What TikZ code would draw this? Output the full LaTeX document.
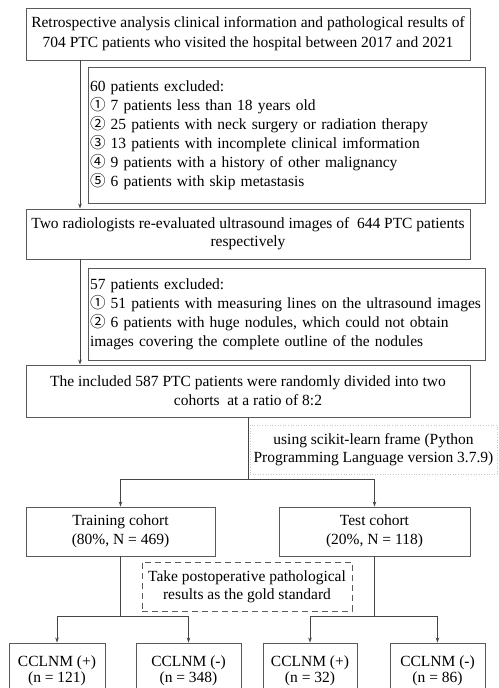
\documentclass[tikz,border=0pt]{standalone}
\usepackage{fontspec}
\setmainfont{Liberation Serif}
\newfontfamily\circfont{Noto Sans CJK SC}
\newcommand{\circd}[1]{{\circfont #1}}
\usetikzlibrary{arrows.meta}
\definecolor{boxgray}{HTML}{5A5A5A}
\definecolor{linegray}{HTML}{454545}
\definecolor{dotgray}{HTML}{C8C8C8}
\begin{document}
\begin{tikzpicture}[x=1pt,y=-1pt,
  font=\fontsize{15.5}{19}\selectfont,
  box/.style={draw=boxgray, line width=0.9pt, inner sep=0pt, align=center, text=black},
  exbox/.style={box, align=left},
  conn/.style={draw=linegray, line width=0.8pt, -{Stealth[length=5pt,width=3.5pt]}},
  plain/.style={draw=linegray, line width=0.8pt},
  ls20/.style={font=\fontsize{15.5}{20}\selectfont},
  ls18/.style={font=\fontsize{15.5}{18}\selectfont},
  ls16/.style={font=\fontsize{15.5}{16.5}\selectfont}]
\useasboundingbox (0,0) rectangle (498,688);

\node[box, ls20, minimum width=444, minimum height=52] (b1) at (248,34)
  {Retrospective analysis clinical information and pathological results of\\704 PTC patients who visited the hospital between 2017 and 2021};

\node[exbox, text width=393, minimum width=397, minimum height=136] (e1) at (286.5,135)
  {60 patients excluded:\\
   \circd{①} 7 patients less than 18 years old\\
   \circd{②} 25 patients with neck surgery or radiation therapy\\
   \circd{③} 13 patients with incomplete clinical imformation\\
   \circd{④} 9 patients with a history of other malignancy\\
   \circd{⑤} 6 patients with skip metastasis};

\node[box, ls18, minimum width=444, minimum height=50] (b2) at (248,234)
  {Two radiologists re-evaluated ultrasound images of~ 644 PTC patients\\respectively};

\node[exbox, text width=393, minimum width=397, minimum height=92] (e2) at (286.5,314)
  {57 patients excluded:\\
   \circd{①} 51 patients with measuring lines on the ultrasound images\\
   \circd{②} 6 patients with huge nodules, which could not obtain\\
   images covering the complete outline of the nodules};

\node[box, minimum width=444, minimum height=52] (b3) at (248,391)
  {The included 587 PTC patients were randomly divided into two\\cohorts~ at a ratio of 8:2};

\node[draw=dotgray, line width=0.6pt, dotted, inner sep=0pt, align=center, ls18, minimum width=247, minimum height=49] (note) at (373.5,449.5)
  {using scikit-learn frame (Python\\Programming Language version 3.7.9)};

\node[box, minimum width=189, minimum height=49] (train) at (120.5,531.5)
  {Training cohort\\(80\%, N = 469)};
\node[box, minimum width=191, minimum height=49] (test) at (374.5,531.5)
  {Test cohort\\(20\%, N = 118)};

\node[box, ls18, dashed, dash pattern=on 6pt off 4pt, minimum width=210, minimum height=49] (gold) at (247,586.5)
  {Take postoperative pathological\\results as the gold standard};

\node[box, ls16, minimum width=96, minimum height=56] (c1) at (57,671)
  {CCLNM (+)\\(n = 121)};
\node[box, ls16, minimum width=105, minimum height=56] (c2) at (188.5,671)
  {CCLNM (-)\\(n = 348)};
\node[box, ls16, minimum width=94, minimum height=56] (c3) at (310,671)
  {CCLNM (+)\\(n = 32)};
\node[box, ls16, minimum width=95, minimum height=56] (c4) at (437.5,671)
  {CCLNM (-)\\(n = 86)};

\coordinate (xa) at (80,0);
\draw[conn] (b1.south -| xa) -- (b2.north -| xa);
\draw[conn] (b2.south -| xa) -- (b3.north -| xa);

\draw[plain] (b3.south) -- ++(0,62) coordinate (s1);
\draw[conn] (s1) -| (train.north);
\draw[conn] (s1) -| (test.north);

\draw[plain] (train.south) -- ++(0,60) coordinate (s2);
\draw[conn] (s2) -| (c1.north);
\draw[conn] (s2) -| (c2.north);

\draw[plain] (test.south) -- ++(0,60) coordinate (s3);
\draw[conn] (s3) -| (c3.north);
\draw[conn] (s3) -| (c4.north);
\end{tikzpicture}
\end{document}
